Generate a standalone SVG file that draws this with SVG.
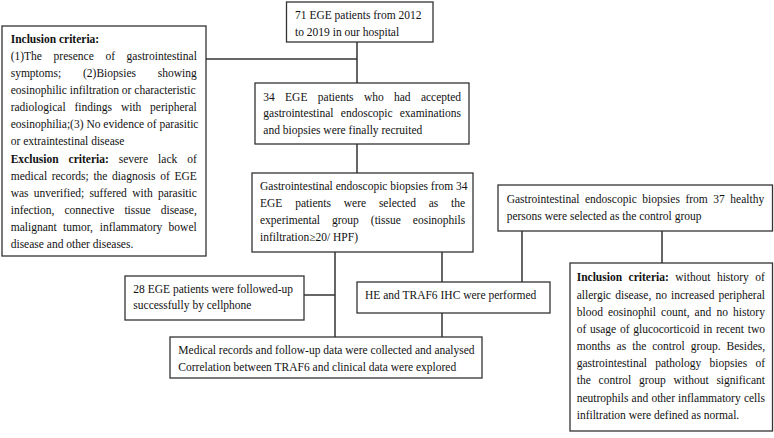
<svg xmlns="http://www.w3.org/2000/svg" width="774" height="438" viewBox="0 0 774 438">
<style>
.box{fill:#fff;stroke:#333;stroke-width:1.3}
.ln{stroke:#333;stroke-width:1.5;fill:none}
text{font-family:"Liberation Serif","Times New Roman",serif;font-size:11.5px;fill:#111}
.b{font-weight:bold}
</style>
<rect width="774" height="438" fill="#fff"/>
<g id="connectors">
<line class="ln" x1="357" y1="42" x2="357" y2="83"/>
<line class="ln" x1="206" y1="59" x2="357" y2="59"/>
<line class="ln" x1="357" y1="144" x2="357" y2="173"/>
<line class="ln" x1="335" y1="252" x2="335" y2="337"/>
<line class="ln" x1="304" y1="295" x2="335" y2="295"/>
<line class="ln" x1="442" y1="252" x2="442" y2="282"/>
<line class="ln" x1="442" y1="313" x2="442" y2="337"/>
<line class="ln" x1="522" y1="231" x2="522" y2="282"/>
<line class="ln" x1="662" y1="231" x2="662" y2="263"/>
</g>
<g id="n_criteria">
<rect class="box" x="2" y="26" width="204" height="230"/>
<text x="10.7" y="42.8" class="b">Inclusion criteria:</text>
<text y="59.9"><tspan x="10.7">(1)The</tspan><tspan x="53.6">presence</tspan><tspan x="105.4">of</tspan><tspan x="126.6">gastrointestinal</tspan></text>
<text y="77"><tspan x="10.7">symptoms;</tspan><tspan x="83">(2)Biopsies</tspan><tspan x="157.8">showing</tspan></text>
<text x="10.7" y="94.1">eosinophilic infiltration or characteristic</text>
<text y="111.2"><tspan x="10.7">radiological</tspan><tspan x="74.4">findings</tspan><tspan x="120.9">with</tspan><tspan x="150.1">peripheral</tspan></text>
<text x="10.7" y="128.3">eosinophilia;(3) No evidence of parasitic</text>
<text x="10.7" y="145.4">or extraintestinal disease</text>
<text y="162.5"><tspan x="10.7" class="b">Exclusion</tspan><tspan x="68.6" class="b">criteria:</tspan><tspan x="118.7">severe</tspan><tspan x="158.1">lack</tspan><tspan x="187.2">of</tspan></text>
<text y="179.6"><tspan x="10.7">medical</tspan><tspan x="51.7">records;</tspan><tspan x="93.4">the</tspan><tspan x="112.1">diagnosis</tspan><tspan x="160.2">of</tspan><tspan x="174.4">EGE</tspan></text>
<text y="196.7"><tspan x="10.7">was</tspan><tspan x="33.8">unverified;</tspan><tspan x="89.4">suffered</tspan><tspan x="132.3">with</tspan><tspan x="157.9">parasitic</tspan></text>
<text y="213.8"><tspan x="10.7">infection,</tspan><tspan x="64.5">connective</tspan><tspan x="124.4">tissue</tspan><tspan x="160.7">disease,</tspan></text>
<text y="230.9"><tspan x="10.7">malignant</tspan><tspan x="63">tumor,</tspan><tspan x="99.7">inflammatory</tspan><tspan x="168.6">bowel</tspan></text>
<text x="10.7" y="248">disease and other diseases.</text>
</g>
<g id="n_71">
<rect class="box" x="286.5" y="2" width="146.5" height="40"/>
<text x="295" y="19.3">71 EGE patients from 2012</text>
<text x="295" y="35.5">to 2019 in our hospital</text>
</g>
<g id="n_34">
<rect class="box" x="255" y="83" width="214" height="61"/>
<text y="100.6"><tspan x="263.3">34</tspan><tspan x="285.1">EGE</tspan><tspan x="317.8">patients</tspan><tspan x="363.9">who</tspan><tspan x="394">had</tspan><tspan x="420.9">accepted</tspan></text>
<text y="117.3"><tspan x="263.3">gastrointestinal</tspan><tspan x="340.8">endoscopic</tspan><tspan x="399.7">examinations</tspan></text>
<text x="263.3" y="134">and biopsies were finally recruited</text>
</g>
<g id="n_exp">
<rect class="box" x="252" y="173" width="221" height="79"/>
<text x="260" y="189.5">Gastrointestinal endoscopic biopsies from 34</text>
<text y="206.5"><tspan x="260">EGE</tspan><tspan x="295.2">patients</tspan><tspan x="343.8">were</tspan><tspan x="378.9">selected</tspan><tspan x="428.7">as</tspan><tspan x="451.1">the</tspan></text>
<text y="223.5"><tspan x="260">experimental</tspan><tspan x="332">group</tspan><tspan x="370.8">(tissue</tspan><tspan x="412.8">eosinophils</tspan></text>
<text x="260" y="240.5">infiltration≥20/ HPF)</text>
</g>
<g id="n_ctrl">
<rect class="box" x="498" y="185" width="274.5" height="46"/>
<text y="202.5"><tspan x="506.7">Gastrointestinal</tspan><tspan x="585">endoscopic</tspan><tspan x="642.2">biopsies</tspan><tspan x="685.4">from</tspan><tspan x="713.3">37</tspan><tspan x="730.3">healthy</tspan></text>
<text x="506.7" y="219.5">persons were selected as the control group</text>
</g>
<g id="n_ctrl_criteria">
<rect class="box" x="570" y="263" width="202.5" height="168"/>
<text y="281.3"><tspan x="576.7" class="b">Inclusion</tspan><tspan x="628.6" class="b">criteria:</tspan><tspan x="675.3">without</tspan><tspan x="716.9">history</tspan><tspan x="755.3">of</tspan></text>
<text y="298.5"><tspan x="576.7">allergic</tspan><tspan x="615.2">disease,</tspan><tspan x="655.4">no</tspan><tspan x="671">increased</tspan><tspan x="718.4">peripheral</tspan></text>
<text y="315.6"><tspan x="576.7">blood</tspan><tspan x="608">eosinophil</tspan><tspan x="661.1">count,</tspan><tspan x="694.6">and</tspan><tspan x="716.4">no</tspan><tspan x="733">history</tspan></text>
<text y="332.8"><tspan x="576.7">of</tspan><tspan x="590">usage</tspan><tspan x="619.9">of</tspan><tspan x="633.2">glucocorticoid</tspan><tspan x="703.3">in</tspan><tspan x="715.9">recent</tspan><tspan x="747.7">two</tspan></text>
<text y="350"><tspan x="576.7">months</tspan><tspan x="616.6">as</tspan><tspan x="632.2">the</tspan><tspan x="652.2">control</tspan><tspan x="690.8">group.</tspan><tspan x="726.5">Besides,</tspan></text>
<text y="367.2"><tspan x="576.7">gastrointestinal</tspan><tspan x="655.2">pathology</tspan><tspan x="709.5">biopsies</tspan><tspan x="755.4">of</tspan></text>
<text y="384.3"><tspan x="576.7">the</tspan><tspan x="598.6">control</tspan><tspan x="638.9">group</tspan><tspan x="673.5">without</tspan><tspan x="716.4">significant</tspan></text>
<text y="401.5"><tspan x="576.7">neutrophils</tspan><tspan x="631.6">and</tspan><tspan x="651.4">other</tspan><tspan x="678.1">inflammatory</tspan><tspan x="743.9">cells</tspan></text>
<text x="576.7" y="418.7">infiltration were defined as normal.</text>
</g>
<g id="n_28">
<rect class="box" x="125" y="276" width="179" height="44"/>
<text x="133.3" y="292.7">28 EGE patients were followed-up</text>
<text x="133.3" y="308.5">successfully by cellphone</text>
</g>
<g id="n_he">
<rect class="box" x="357" y="282" width="193" height="31"/>
<text x="365" y="298.5">HE and TRAF6 IHC were performed</text>
</g>
<g id="n_medical">
<rect class="box" x="170" y="337" width="312" height="41"/>
<text x="178.3" y="354.3">Medical records and follow-up data were collected and analysed</text>
<text x="178.3" y="370.5">Correlation between TRAF6 and clinical data were explored</text>
</g>
</svg>
